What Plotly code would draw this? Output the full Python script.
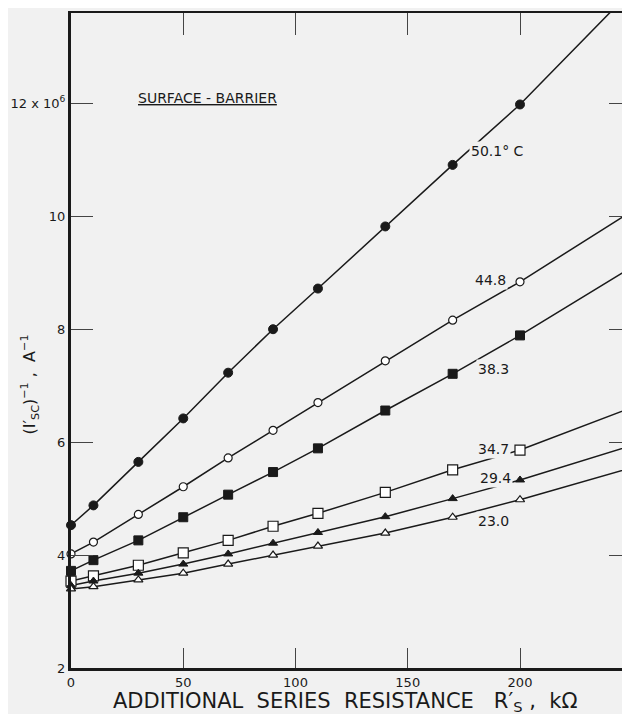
import plotly.graph_objects as go

# ---- data ----
r_s = [0, 10, 30, 50, 70, 90, 110, 140, 170, 200]  # kOhm

inv_isc_501 = [4.53, 4.88, 5.65, 6.42, 7.23, 8.00, 8.72, 9.82, 10.91, 11.98]
inv_isc_448 = [4.02, 4.23, 4.72, 5.21, 5.72, 6.21, 6.70, 7.44, 8.16, 8.84]
inv_isc_383 = [3.72, 3.91, 4.26, 4.67, 5.07, 5.47, 5.89, 6.56, 7.21, 7.89]
inv_isc_347 = [3.54, 3.63, 3.82, 4.04, 4.26, 4.51, 4.74, 5.11, 5.51, 5.86]
inv_isc_294 = [3.46, 3.54, 3.68, 3.84, 4.02, 4.21, 4.40, 4.68, 5.00, 5.33]
inv_isc_230 = [3.40, 3.44, 3.56, 3.68, 3.84, 4.00, 4.16, 4.39, 4.67, 4.98]

# where each drawn curve leaves the (cropped) right edge of the frame
curve_end_r = 249
curve_end_values = [13.97, 10.07, 9.08, 6.60, 5.93, 5.54]

series_labels = ["50.1° C", "44.8", "38.3", "34.7", "29.4", "23.0"]

x_ticks = [0, 50, 100, 150, 200]
x_ticktext = ["0", "50", "100", "150", "200"]
y_ticks = [2, 4, 6, 8, 10, 12]
y_ticktext = ["2", "4", "6", "8", "10", "12 x 10<sup>6</sup>"]

x_title = "ADDITIONAL\u00a0 SERIES\u00a0 RESISTANCE\u00a0\u00a0 R′<sub>S</sub> ,\u00a0 kΩ"
y_title = "(I′<sub>SC</sub>)<sup>−1</sup> ,\u00a0 A<sup>−1</sup>"
panel_title = "<u>SURFACE - BARRIER</u>"

X_RANGE = [0, 249]
Y_RANGE = [2, 13.6]

# ---- styles ----
BG = "#f1f1f1"
INK = "#1a1a1a"
FONT = "DejaVu Sans"

all_series = [inv_isc_501, inv_isc_448, inv_isc_383, inv_isc_347, inv_isc_294, inv_isc_230]
marker_styles = [
    dict(symbol="circle", size=9, color=INK, line=dict(color=INK, width=1)),
    dict(symbol="circle", size=8, color="white", line=dict(color=INK, width=1.2)),
    dict(symbol="square", size=9, color=INK, line=dict(color=INK, width=1)),
    dict(symbol="square", size=10, color="white", line=dict(color=INK, width=1.2)),
    dict(symbol="triangle-up", size=8, color=INK, line=dict(color=INK, width=1)),
    dict(symbol="triangle-up", size=8, color="white", line=dict(color=INK, width=1.2)),
]

# label positions (layout positions in data units)
label_pos = [(190, 11.15, "center"), (194.5, 8.87, "right"), (188, 7.29, "center"),
             (188.4, 5.88, "center"), (189, 5.36, "center"), (188.4, 4.60, "center")]

fig = go.Figure()

for ys, yend in zip(all_series, curve_end_values):
    fig.add_trace(go.Scatter(x=r_s + [curve_end_r], y=ys + [yend], mode="lines",
                             line=dict(color=INK, width=1.5),
                             hoverinfo="skip", showlegend=False))
for ys, mk in zip(all_series, marker_styles):
    fig.add_trace(go.Scatter(x=r_s, y=ys, mode="markers", marker=mk,
                             cliponaxis=False, showlegend=False))

# dummy trace for top/right mirror axes
fig.add_trace(go.Scatter(x=[], y=[], xaxis="x2", yaxis="y2", showlegend=False))

for (x, y, anc), txt in zip(label_pos, series_labels):
    fig.add_annotation(x=x, y=y, xref="x", yref="y", text=txt, showarrow=False,
                       xanchor=anc, font=dict(family=FONT, size=14, color=INK),
                       bgcolor=BG, borderpad=1)

fig.add_annotation(x=60.6, y=12.09, xref="x", yref="y", text=panel_title,
                   showarrow=False, font=dict(family=FONT, size=14, color=INK))

# axis titles
fig.add_annotation(x=0.49, y=0, xref="paper", yref="paper", yshift=-34,
                   text=x_title, showarrow=False, yanchor="middle",
                   font=dict(family=FONT, size=21, color=INK))
fig.add_annotation(x=-0.0733, y=0.4328, xref="paper", yref="paper",
                   text=y_title, showarrow=False, textangle=-90,
                   xanchor="center", yanchor="middle",
                   font=dict(family=FONT, size=16, color=INK))

# the page body adds an 8px offset; margins compensate so the plot lands
# where the reference has it
fig.update_layout(
    width=630, height=714,
    margin=dict(l=63, r=8, t=5, b=54, autoexpand=False),
    paper_bgcolor=BG, plot_bgcolor=BG,
    font=dict(family=FONT, color=INK, size=13),
    xaxis=dict(range=X_RANGE, tickvals=x_ticks, ticktext=x_ticktext,
               showline=True, linewidth=3, linecolor=INK,
               ticks="inside", ticklen=20, tickwidth=1, tickcolor="#444",
               showgrid=False, zeroline=False, automargin=False,
               tickfont=dict(size=13)),
    yaxis=dict(range=Y_RANGE, tickvals=y_ticks, ticktext=y_ticktext,
               showline=True, linewidth=3, linecolor=INK,
               ticks="inside", ticklen=22, tickwidth=1, tickcolor="#444",
               showgrid=False, zeroline=False, automargin=False,
               tickfont=dict(size=13)),
    xaxis2=dict(range=X_RANGE, overlaying="x", side="top", tickvals=x_ticks,
                showticklabels=False, showline=True, linewidth=1.5, linecolor=INK,
                ticks="inside", ticklen=22, tickwidth=1, tickcolor="#444",
                showgrid=False, zeroline=False, automargin=False),
    yaxis2=dict(range=Y_RANGE, overlaying="y", side="right", tickvals=y_ticks,
                showticklabels=False, showline=False,
                ticks="inside", ticklen=21, tickwidth=1, tickcolor="#444",
                showgrid=False, zeroline=False, automargin=False),
)

fig.write_html("out.html")
